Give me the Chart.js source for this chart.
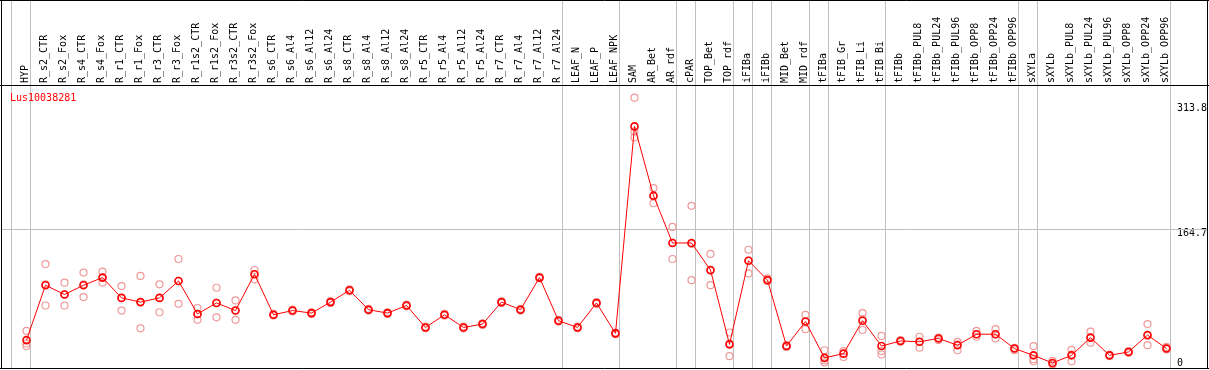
<!DOCTYPE html>
<html>
<head>
<meta charset="utf-8">
<script src="https://cdn.jsdelivr.net/npm/chart.js@4/dist/chart.umd.min.js"></script>
<style>
  html, body { margin: 0; padding: 0; background: #fff; }
  canvas { display: block; }
</style>
</head>
<body>
<canvas id="c" width="1209" height="370"></canvas>
<script>
// Lus10038281 — ortalama + 3 tekrar
const gene = "Lus10038281";

const categories = [
  "HYP", "R_s2_CTR", "R_s2_Fox", "R_s4_CTR", "R_s4_Fox", "R_r1_CTR", "R_r1_Fox", "R_r3_CTR", "R_r3_Fox",
  "R_r1s2_CTR", "R_r1s2_Fox", "R_r3s2_CTR", "R_r3s2_Fox",
  "R_s6_CTR", "R_s6_Al4", "R_s6_Al12", "R_s6_Al24", "R_s8_CTR", "R_s8_Al4", "R_s8_Al12", "R_s8_Al24",
  "R_r5_CTR", "R_r5_Al4", "R_r5_Al12", "R_r5_Al24", "R_r7_CTR", "R_r7_Al4", "R_r7_Al12", "R_r7_Al24",
  "LEAF_N", "LEAF_P", "LEAF_NPK", "SAM", "AR_Bet", "AR_rdf", "cPAR", "TOP_Bet", "TOP_rdf",
  "iFIBa", "iFIBb", "MID_Bet", "MID_rdf", "tFIBa", "tFIB_Gr", "tFIB_Li", "tFIB_Bi", "tFIBb",
  "tFIBb_PUL8", "tFIBb_PUL24", "tFIBb_PUL96", "tFIBb_OPP8", "tFIBb_OPP24", "tFIBb_OPP96",
  "sXYLa", "sXYLb", "sXYLb_PUL8", "sXYLb_PUL24", "sXYLb_PUL96", "sXYLb_OPP8", "sXYLb_OPP24", "sXYLb_OPP96"
];
// grup ayırıcıları (her gruptaki kategori sayısı)
const groupSizes = [1, 28, 3, 3, 1, 2, 1, 1, 2, 1, 3, 7, 1, 7];

const meanValues = [
  33, 98, 87, 98, 107, 83, 78, 83, 103, 64, 77, 68, 111,
  63, 68, 65, 78, 92, 69, 65, 74, 48, 63, 48, 52, 78, 69, 107, 56,
  48, 77, 41, 286, 204, 148, 148, 116, 28, 127, 104, 26, 55, 12, 17, 56, 26, 32,
  31, 35, 27, 40, 40, 23, 15, 6, 15, 36, 15, 19, 39, 23
];
const rep1 = [
  44, 123, 101, 113, 114, 97, 109, 99, 129, 71, 95, 80, 116,
  64, 69, 66, 79, 93, 70, 66, 75, 49, 64, 49, 53, 79, 70, 108, 57,
  49, 78, 42, 320, 213, 167, 192, 135, 42, 140, 106, 27, 63, 21, 20, 65, 38, 33,
  37, 36, 31, 44, 46, 24, 26, 8.5, 21.5, 43, 16, 20, 52, 25
];
const rep2 = [
  29, 99, 87, 99, 107, 83, 78, 83, 103, 64, 77, 68, 111,
  63, 68, 65, 78, 92, 69, 65, 74, 48, 63, 48, 52, 78, 69, 107, 56,
  48, 77, 41, 280, 203, 148, 147, 115, 29, 127, 104, 26, 55, 9, 17, 58, 20, 32,
  31, 35, 28, 40, 40, 23, 10.5, 5, 16, 36, 15, 19, 38, 23.5
];
const rep3 = [
  26, 74, 74, 84, 101, 68, 47, 66, 76, 57, 60, 57, 105,
  62, 67, 64, 77, 91, 68, 64, 73, 47, 62, 47, 51, 77, 68, 106, 55,
  47, 76, 40, 273, 195, 129, 104, 98, 14, 112, 103, 25, 46, 6.5, 13, 45, 16, 31,
  24, 33, 21, 37, 35, 21, 8, 4, 8, 30, 14, 18, 27, 22
];
const yTicks = [0, 164.7, 313.8];
const yGrid = [164.7];
const yMax = 335;

const FONT = "DejaVu Sans Mono";

const frame = {
  id: "frame",
  beforeDatasetsDraw(chart) {
    const { ctx, chartArea: a, scales: { x, y } } = chart;
    ctx.save();
    ctx.strokeStyle = "#c0c0c0";
    ctx.lineWidth = 1;
    ctx.beginPath();
    let idx = -1;
    const ends = [idx];
    groupSizes.forEach(n => { idx += n; ends.push(idx); });
    ends.forEach(i => {
      const px = Math.floor(x.getPixelForValue(i) + 4) + 0.5;
      ctx.moveTo(px, 0); ctx.lineTo(px, a.bottom);
    });
    yGrid.forEach(v => {
      const py = Math.round(y.getPixelForValue(v)) + 0.5;
      ctx.moveTo(1, py); ctx.lineTo(chart.width - 2, py);
    });
    ctx.stroke();
    ctx.restore();
  },
  afterDraw(chart) {
    const { ctx, chartArea: a } = chart;
    ctx.save();
    ctx.strokeStyle = "#000";
    ctx.lineWidth = 1;
    ctx.beginPath();
    ctx.moveTo(0, 0.5); ctx.lineTo(chart.width, 0.5);
    ctx.moveTo(1.5, 0); ctx.lineTo(1.5, a.bottom + 1);
    ctx.moveTo(chart.width - 1.5, 0); ctx.lineTo(chart.width - 1.5, a.bottom + 1);
    ctx.moveTo(0, a.top + 0.5); ctx.lineTo(chart.width, a.top + 0.5);
    ctx.moveTo(0, a.bottom + 0.5); ctx.lineTo(chart.width, a.bottom + 0.5);
    ctx.stroke();
    ctx.fillStyle = "#ff0000";
    ctx.font = `10px "${FONT}"`;
    ctx.textBaseline = "middle";
    ctx.fillText(gene, 10, a.top + 13);
    ctx.restore();
  }
};

const repStyle = {
  showLine: false,
  pointRadius: 3.5,
  pointBorderWidth: 1.2,
  pointBorderColor: "#ef9a9a",
  pointBackgroundColor: "rgba(0,0,0,0)",
  pointHoverRadius: 3.5
};

new Chart(document.getElementById("c"), {
  type: "line",
  data: {
    labels: categories,
    datasets: [
      { label: "mean", data: meanValues, borderColor: "#ff0000", borderWidth: 1, tension: 0,
        pointRadius: 3.5, pointBorderWidth: 1.6, pointBorderColor: "#ff0000",
        pointBackgroundColor: "rgba(0,0,0,0)", clip: false },
      Object.assign({ label: "rep1", data: rep1, clip: false }, repStyle),
      Object.assign({ label: "rep2", data: rep2, clip: false }, repStyle),
      Object.assign({ label: "rep3", data: rep3, clip: false }, repStyle)
    ]
  },
  options: {
    responsive: false,
    animation: false,
    devicePixelRatio: 1,
    layout: { autoPadding: false, padding: { left: 17, right: 0, top: 0, bottom: 2 } },
    plugins: { legend: { display: false }, tooltip: { enabled: false } },
    scales: {
      x: {
        type: "category",
        position: "top",
        offset: true,
        grid: { display: false, drawTicks: false },
        border: { display: false },
        ticks: {
          autoSkip: false, minRotation: 90, maxRotation: 90, padding: 2, labelOffset: 11,
          color: "#000", font: { family: FONT, size: 10 }
        },
        afterFit: s => { s.height = 85; s.paddingLeft = 0; s.paddingRight = 0; }
      },
      y: {
        position: "right",
        min: 0,
        max: yMax,
        grid: { display: false, drawTicks: false },
        border: { display: false },
        afterBuildTicks: s => { s.ticks = yTicks.map(v => ({ value: v })); },
        ticks: {
          padding: 1, crossAlign: "near", color: "#000",
          font: { family: FONT, size: 10, lineHeight: 1 },
          // ilk etiket çizginin üstünde, diğerleri altında
          callback: v => v === 0 ? ["0", ""] : ["", String(v)]
        },
        afterFit: s => { s.width = 33; s.paddingTop = 0; s.paddingBottom = 0; }
      }
    }
  },
  plugins: [frame]
});
</script>
</body>
</html>
